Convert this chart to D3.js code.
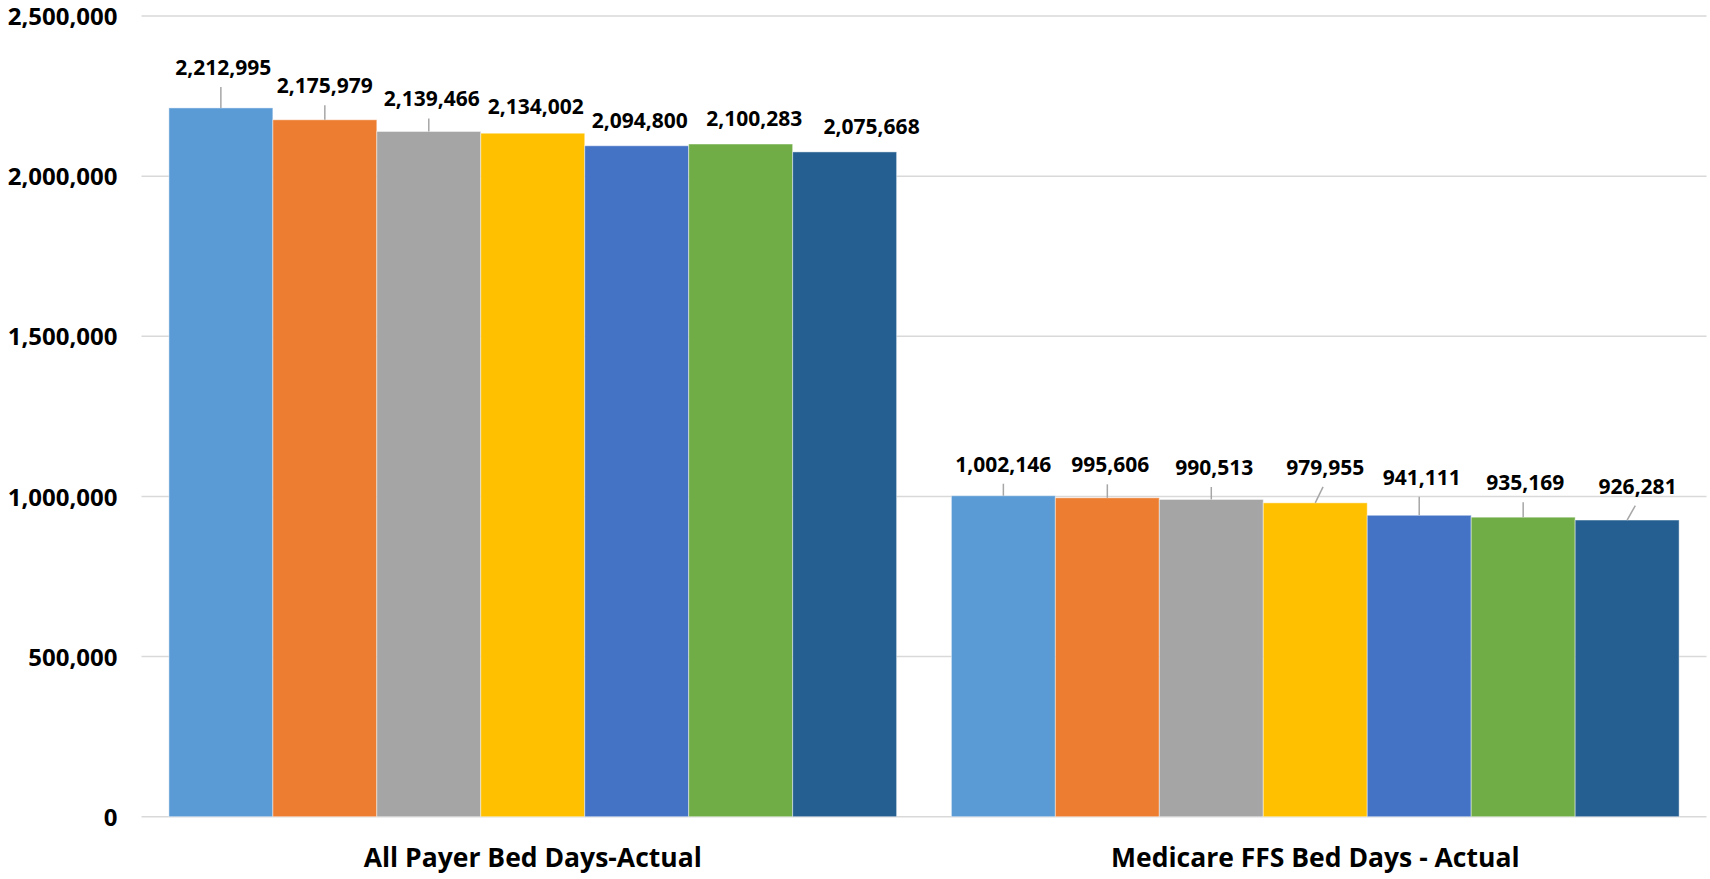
<!DOCTYPE html>
<html>
<head>
<meta charset="utf-8">
<script src="https://cdn.jsdelivr.net/npm/d3@7"></script>
<style>
  html, body { margin: 0; padding: 0; background: #ffffff; }
  svg { display: block; }
  text { font-family: "Open Sans", sans-serif; font-weight: 700; fill: #000; }
</style>
</head>
<body>
<svg id="chart" width="1710" height="879"></svg>
<script>
// ---- data ----
const categories = ["All Payer Bed Days-Actual", "Medicare FFS Bed Days - Actual"];
const seriesNames = ["Series 1", "Series 2", "Series 3", "Series 4", "Series 5", "Series 6", "Series 7"];
const allPayerValues = [2212995, 2175979, 2139466, 2134002, 2094800, 2100283, 2075668];
const medicareValues = [1002146, 995606, 990513, 979955, 941111, 935169, 926281];
const yTicks = [0, 500000, 1000000, 1500000, 2000000, 2500000];

// ---- layout / style (not data) ----
const seriesColors = ["#5B9BD5", "#ED7D31", "#A5A5A5", "#FFC000", "#4472C4", "#70AD47", "#255E91"];
// manual label nudges (px) as in the original chart: horizontal shift and gap above bar
const labelDx = [[2.5, 0, 3, 3, 3, 13.5, 27], [0, 3, 3, 10, 2.5, 2, 10.5]];
const labelGap = [[33, 26.5, 25, 19, 17.5, 18, 18], [24, 25.5, 24.5, 28, 30.5, 27, 26.5]];

const seriesByCategory = [allPayerValues, medicareValues];

const svg = d3.select("#chart");
const plot = { left: 141.5, right: 1706.5, top: 16, bottom: 816.7 };

const x0 = d3.scaleBand()
  .domain(categories)
  .range([plot.left, plot.right])
  .paddingInner(0.07)
  .paddingOuter(0.035);

const x1 = d3.scaleBand()
  .domain(seriesNames)
  .range([0, x0.bandwidth()])
  .padding(0);

const y = d3.scaleLinear()
  .domain([0, 2500000])
  .range([plot.bottom, plot.top]);

// gridlines
svg.append("g")
  .selectAll("line")
  .data(yTicks)
  .join("line")
  .attr("x1", plot.left)
  .attr("x2", plot.right)
  .attr("y1", d => y(d))
  .attr("y2", d => y(d))
  .attr("stroke", "#D9D9D9")
  .attr("stroke-width", 1.5);

// y axis labels
const yAxis = d3.axisLeft(y)
  .tickValues(yTicks)
  .tickSize(0)
  .tickPadding(0)
  .tickFormat(d3.format(","));
const yg = svg.append("g")
  .attr("transform", `translate(${plot.left - 24},0)`)
  .call(yAxis);
yg.select(".domain").remove();
yg.selectAll("text")
  .attr("font-family", "Open Sans, sans-serif")
  .attr("font-weight", 700)
  .attr("font-size", 24)
  .attr("fill", "#000")
  .attr("dy", "0.36em");

// bars
const groups = svg.append("g")
  .selectAll("g")
  .data(categories.map((c, i) => ({ cat: c, ci: i, vals: seriesByCategory[i] })))
  .join("g")
  .attr("transform", d => `translate(${x0(d.cat)},0)`);

groups.selectAll("rect")
  .data(d => d.vals.map((v, si) => ({ v, si, ci: d.ci })))
  .join("rect")
  .attr("x", d => x1(seriesNames[d.si]))
  .attr("width", x1.bandwidth())
  .attr("y", d => y(d.v))
  .attr("height", d => y(0) - y(d.v))
  .attr("fill", d => seriesColors[d.si])
  .attr("stroke", "#ffffff")
  .attr("stroke-opacity", 0.45)
  .attr("stroke-width", 1);

// leader lines
groups.selectAll("line.leader")
  .data(d => d.vals.map((v, si) => ({ v, si, ci: d.ci })).filter(d => labelGap[d.ci][d.si] > 22))
  .join("line")
  .attr("class", "leader")
  .attr("x1", d => x1(seriesNames[d.si]) + x1.bandwidth() / 2 + (Math.abs(labelDx[d.ci][d.si]) > 5 ? labelDx[d.ci][d.si] * 0.78 : 0))
  .attr("y1", d => y(d.v) - labelGap[d.ci][d.si] + 12)
  .attr("x2", d => x1(seriesNames[d.si]) + x1.bandwidth() / 2)
  .attr("y2", d => y(d.v))
  .attr("stroke", "#A6A6A6")
  .attr("stroke-width", 1.5);

// data labels
groups.selectAll("text.lbl")
  .data(d => d.vals.map((v, si) => ({ v, si, ci: d.ci })))
  .join("text")
  .attr("class", "lbl")
  .attr("x", d => x1(seriesNames[d.si]) + x1.bandwidth() / 2 + labelDx[d.ci][d.si])
  .attr("y", d => y(d.v) - labelGap[d.ci][d.si])
  .attr("text-anchor", "middle")
  .attr("font-size", 21)
  .text(d => d3.format(",")(d.v));

// x axis category labels
const xAxis = d3.axisBottom(x0).tickSize(0).tickPadding(0);
const xg = svg.append("g")
  .attr("transform", `translate(0,${plot.bottom})`)
  .call(xAxis);
xg.select(".domain").remove();
xg.selectAll("text")
  .attr("font-family", "Open Sans, sans-serif")
  .attr("font-weight", 700)
  .attr("font-size", 26.5)
  .attr("fill", "#000")
  .attr("dy", 0)
  .attr("y", 50);
</script>
</body>
</html>
